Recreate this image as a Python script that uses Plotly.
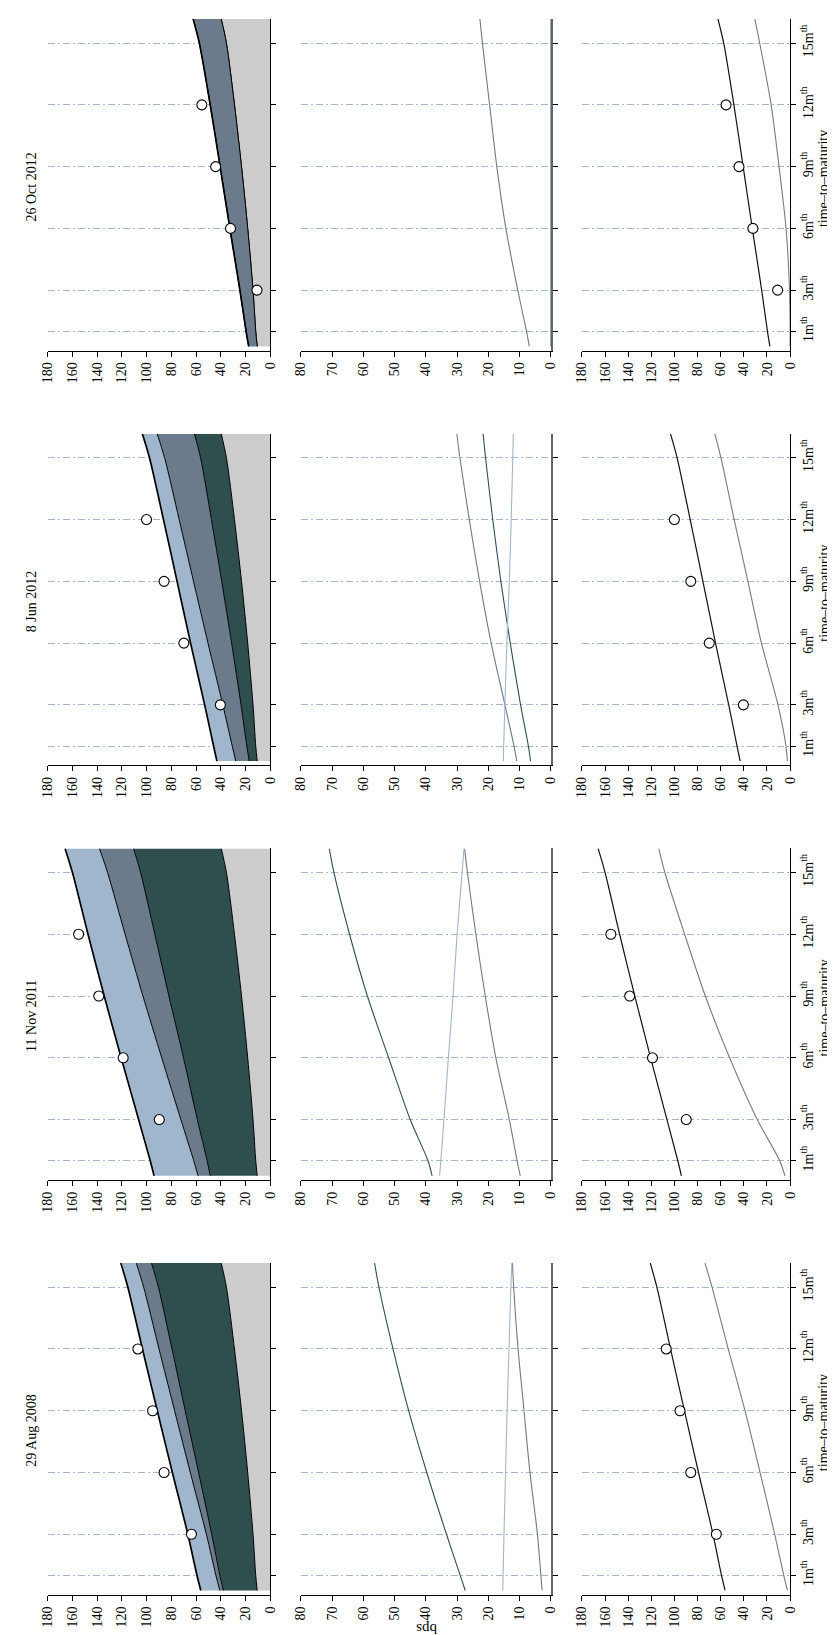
import plotly.graph_objects as go

# ---------------- data ----------------
dates = ["26 Oct 2012", "8 Jun 2012", "11 Nov 2011", "29 Aug 2008"]   # top -> bottom bands
maturity = [0.27, 1, 3, 6, 9, 12, 15, 16.17]                            # months
obs_maturity = [3, 6, 9, 12]
tick_months = [1, 3, 6, 9, 12, 15]
tick_labels = ["1m<sup>th</sup>", "3m<sup>th</sup>", "6m<sup>th</sup>",
               "9m<sup>th</sup>", "12m<sup>th</sup>", "15m<sup>th</sup>"]

base_bps = [10.6, 11.8, 14.0, 18.3, 23.3, 29.0, 35.5, 39.7]

green_oct12 = [0, 0, 0, 0, 0, 0, 0, 0]
green_jun12 = [6.5, 7.2, 9.7, 13.0, 16.0, 18.6, 20.9, 21.7]
green_nov11 = [38.0, 39.3, 45.0, 51.9, 58.7, 64.4, 69.4, 70.9]
green_aug08 = [27.4, 29.0, 33.4, 39.7, 45.5, 50.5, 55.0, 56.4]

slate_oct12 = [6.9, 7.8, 10.6, 14.4, 17.3, 19.6, 21.9, 22.7]
slate_jun12 = [10.9, 11.8, 14.7, 19.1, 22.8, 26.1, 29.1, 30.1]
slate_nov11 = [9.8, 10.8, 13.3, 17.6, 21.0, 24.0, 26.7, 27.6]
slate_aug08 = [2.8, 3.2, 4.3, 6.7, 8.6, 10.5, 11.9, 12.3]

blue_oct12 = [0, 0, 0, 0, 0, 0, 0, 0]
blue_jun12 = [15.2, 15.1, 14.7, 14.1, 13.3, 12.7, 12.2, 12.0]
blue_nov11 = [35.6, 35.2, 34.2, 32.8, 31.3, 30.0, 28.4, 27.8]
blue_aug08 = [15.4, 15.3, 15.0, 14.5, 14.0, 13.4, 12.8, 12.5]

obs_oct12 = [10.8, 32.2, 44.2, 55.4]
obs_jun12 = [40.4, 69.9, 85.9, 100.1]
obs_nov11 = [89.8, 119.0, 138.7, 155.0]
obs_aug08 = [63.8, 85.9, 95.2, 107.1]

alt_oct12 = [0.0, 0.0, 0.5, 3.5, 9.6, 16.4, 26.3, 30.5]
alt_jun12 = [2.4, 3.6, 10.5, 24.8, 36.5, 48.4, 59.8, 65.2]
alt_nov11 = [4.5, 9.0, 28.4, 52.3, 73.3, 91.2, 108.3, 113.6]
alt_aug08 = [2.3, 5.5, 13.3, 26.0, 39.0, 53.5, 67.5, 73.6]

green = [green_oct12, green_jun12, green_nov11, green_aug08]
slate = [slate_oct12, slate_jun12, slate_nov11, slate_aug08]
blue = [blue_oct12, blue_jun12, blue_nov11, blue_aug08]
obs = [obs_oct12, obs_jun12, obs_nov11, obs_aug08]
alt = [alt_oct12, alt_jun12, alt_nov11, alt_aug08]

# ---------------- styling ----------------
W, H = 835, 1635
C_GRAY = "#cccccc"
C_GREEN = "#2f4f4f"
C_SLATE = "#6c7b8b"
C_BLUE = "#9fb6cd"
GRID = "#a3b8cf"
FONT = "Liberation Serif"
FS = 14

panel_x = [(33.3, 260.0), (291.0, 545.7), (577.3, 789.3)]
band_top0, band_step, band_h = 11.0, 414.7, 331.7
x_ranges = [[180, 0], [80, 0], [180, 0]]
x_ticks = [list(range(0, 181, 20)), list(range(0, 81, 10)), list(range(0, 181, 20))]
t_range = [0.06, 16.17]

fig = go.Figure()
layout = dict(width=W, height=H, margin=dict(l=0, r=0, t=0, b=0), autosize=False,
              paper_bgcolor="white", plot_bgcolor="white", showlegend=False,
              font=dict(family=FONT, size=FS, color="black"), annotations=[])

for b in range(4):
    top = band_top0 + band_step * b
    bot = top + band_h
    for p in range(3):
        n = b * 3 + p + 1
        xr = "x" if n == 1 else f"x{n}"
        yr = "y" if n == 1 else f"y{n}"
        xk = "xaxis" if n == 1 else f"xaxis{n}"
        yk = "yaxis" if n == 1 else f"yaxis{n}"
        x0, x1 = panel_x[p]
        layout[xk] = dict(domain=[x0 / W, x1 / W], range=x_ranges[p], anchor=yr,
                          tickmode="array", tickvals=x_ticks[p], tickangle=-90,
                          ticks="outside", ticklen=5, tickwidth=1, tickcolor="black",
                          showline=True, linecolor="black", linewidth=1,
                          showgrid=False, zeroline=False,
                          tickfont=dict(family=FONT, size=FS, color="black"))
        layout[yk] = dict(domain=[1 - bot / H, 1 - top / H], range=t_range, anchor=xr,
                          side="right", tickmode="array", tickvals=tick_months,
                          ticktext=tick_labels, showticklabels=(p == 2), tickangle=-90,
                          ticks="outside", ticklen=5, tickwidth=1, tickcolor="black",
                          showline=True,
                          linecolor=("#666666" if p == 1 else "black"),
                          linewidth=(1.6 if p == 1 else 1),
                          showgrid=True, gridcolor=GRID, gridwidth=1,
                          griddash="7px,3px,2px,3px", zeroline=False,
                          tickfont=dict(family=FONT, size=FS, color="black"))

        if p == 0:
            comps = [(base_bps, C_GRAY, 1.0), (green[b], C_GREEN, 1.0),
                     (slate[b], C_SLATE, 1.0), (blue[b], C_BLUE, 1.7)]
            for vals, col, lw in comps:
                fig.add_trace(go.Scatter(x=vals, y=maturity, xaxis=xr, yaxis=yr,
                                         mode="lines", stackgroup=f"s{b}", orientation="h",
                                         fillcolor=col,
                                         line=dict(color="black", width=lw, shape="spline", smoothing=0.8),
                                         hoverinfo="skip"))
            fig.add_trace(go.Scatter(x=obs[b], y=obs_maturity, xaxis=xr, yaxis=yr, mode="markers",
                                     marker=dict(size=10, color="white", line=dict(color="black", width=1.1)),
                                     hoverinfo="skip"))
        elif p == 1:
            for vals, col in [(green[b], C_GREEN), (slate[b], C_SLATE), (blue[b], C_BLUE)]:
                fig.add_trace(go.Scatter(x=vals, y=maturity, xaxis=xr, yaxis=yr, mode="lines",
                                         line=dict(color=col, width=1.1, shape="spline", smoothing=0.8),
                                         hoverinfo="skip"))
        else:
            total = [g0 + g1 + s + u for g0, g1, s, u in zip(base_bps, green[b], slate[b], blue[b])]
            fig.add_trace(go.Scatter(x=alt[b], y=maturity, xaxis=xr, yaxis=yr, mode="lines",
                                     line=dict(color="#7a7a7a", width=1.1, shape="spline", smoothing=0.8),
                                     hoverinfo="skip"))
            fig.add_trace(go.Scatter(x=total, y=maturity, xaxis=xr, yaxis=yr, mode="lines",
                                     line=dict(color="#111111", width=1.2, shape="spline", smoothing=0.8),
                                     hoverinfo="skip"))
            fig.add_trace(go.Scatter(x=obs[b], y=obs_maturity, xaxis=xr, yaxis=yr, mode="markers",
                                     marker=dict(size=10, color="white", line=dict(color="black", width=1.1)),
                                     hoverinfo="skip"))

    cy = (top + bot) / 2
    layout["annotations"].append(dict(text=dates[b], x=17 / W, y=1 - (cy + 2) / H,
                                      xref="paper", yref="paper", showarrow=False, textangle=-90,
                                      xanchor="center", yanchor="middle",
                                      font=dict(family=FONT, size=FS, color="black")))
    layout["annotations"].append(dict(text="time–to–maturity", x=824 / W, y=1 - (cy - 6) / H,
                                      xref="paper", yref="paper", showarrow=False, textangle=-90,
                                      xanchor="center", yanchor="middle",
                                      font=dict(family=FONT, size=FS, color="black")))

layout["annotations"].append(dict(text="bps", x=418.5 / W, y=1 - 1621 / H, xref="paper", yref="paper",
                                  showarrow=False, textangle=180, xanchor="center", yanchor="middle",
                                  font=dict(family=FONT, size=15, color="black")))

fig.update_layout(**layout)
fig.write_html("out.html")
